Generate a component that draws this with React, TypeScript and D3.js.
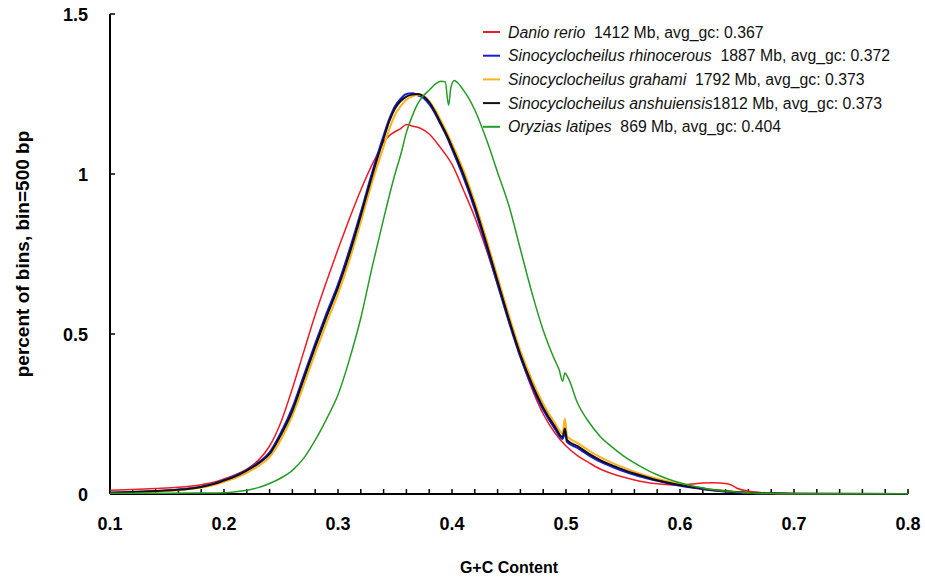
import React from 'react';
import * as d3 from 'd3';

// G+C content distribution, 500 bp bins: [gc, percent of bins]
const danioRerio: [number, number][] = [
    [0.10, 0.012], [0.12, 0.014], [0.14, 0.017], [0.16, 0.021], [0.18, 0.029], [0.19, 0.036], [0.20, 0.047],
    [0.21, 0.060], [0.22, 0.078], [0.23, 0.105], [0.24, 0.150], [0.25, 0.225], [0.26, 0.330], [0.27, 0.445],
    [0.28, 0.560], [0.29, 0.665], [0.30, 0.765], [0.31, 0.860], [0.32, 0.950], [0.33, 1.030], [0.335, 1.065],
    [0.34, 1.100], [0.345, 1.120], [0.35, 1.132], [0.355, 1.142], [0.36, 1.155], [0.365, 1.150], [0.37, 1.146],
    [0.375, 1.138], [0.38, 1.125], [0.385, 1.105], [0.39, 1.082], [0.395, 1.058], [0.40, 1.030], [0.41, 0.950],
    [0.42, 0.865], [0.43, 0.765], [0.44, 0.655], [0.45, 0.540], [0.46, 0.430], [0.47, 0.330], [0.48, 0.250],
    [0.49, 0.192], [0.50, 0.150], [0.51, 0.120], [0.52, 0.098], [0.53, 0.078], [0.54, 0.064], [0.55, 0.053],
    [0.56, 0.044], [0.57, 0.037], [0.58, 0.032], [0.59, 0.029], [0.60, 0.028], [0.61, 0.031], [0.62, 0.034],
    [0.63, 0.035], [0.64, 0.033], [0.645, 0.028], [0.65, 0.018], [0.66, 0.009], [0.67, 0.005], [0.68, 0.003],
    [0.70, 0.001], [0.75, 0.0005], [0.80, 0]
];

const sinoRhinocerous: [number, number][] = [
    [0.10, 0.004], [0.12, 0.006], [0.14, 0.009], [0.16, 0.014], [0.18, 0.023], [0.19, 0.031], [0.20, 0.043],
    [0.21, 0.057], [0.22, 0.075], [0.23, 0.098], [0.24, 0.130], [0.25, 0.192], [0.26, 0.270], [0.27, 0.370],
    [0.28, 0.470], [0.29, 0.565], [0.30, 0.655], [0.31, 0.762], [0.32, 0.880], [0.33, 1.005], [0.34, 1.120],
    [0.345, 1.172], [0.35, 1.212], [0.355, 1.235], [0.36, 1.250], [0.365, 1.252], [0.37, 1.246], [0.375, 1.238],
    [0.38, 1.218], [0.385, 1.190], [0.39, 1.155], [0.395, 1.120], [0.40, 1.078], [0.41, 0.990], [0.42, 0.890],
    [0.43, 0.775], [0.44, 0.655], [0.45, 0.537], [0.46, 0.428], [0.47, 0.338], [0.48, 0.263], [0.49, 0.205],
    [0.497, 0.172], [0.499, 0.190], [0.501, 0.162], [0.51, 0.144], [0.52, 0.121], [0.53, 0.101], [0.54, 0.086],
    [0.55, 0.072], [0.56, 0.060], [0.57, 0.050], [0.58, 0.041], [0.59, 0.033], [0.60, 0.026], [0.61, 0.020],
    [0.62, 0.015], [0.63, 0.011], [0.64, 0.008], [0.65, 0.005], [0.66, 0.003], [0.68, 0.002], [0.70, 0.001],
    [0.80, 0]
];

const sinoGrahami: [number, number][] = [
    [0.10, 0.003], [0.12, 0.005], [0.14, 0.008], [0.16, 0.012], [0.18, 0.020], [0.19, 0.027], [0.20, 0.038],
    [0.21, 0.050], [0.22, 0.066], [0.23, 0.087], [0.24, 0.115], [0.25, 0.170], [0.26, 0.245], [0.27, 0.340],
    [0.28, 0.440], [0.29, 0.535], [0.30, 0.625], [0.31, 0.730], [0.32, 0.850], [0.33, 0.975], [0.34, 1.085],
    [0.345, 1.140], [0.35, 1.185], [0.355, 1.212], [0.36, 1.232], [0.365, 1.243], [0.37, 1.248], [0.375, 1.244],
    [0.38, 1.228], [0.385, 1.202], [0.39, 1.168], [0.395, 1.133], [0.40, 1.095], [0.41, 1.012], [0.42, 0.912],
    [0.43, 0.798], [0.44, 0.678], [0.45, 0.558], [0.46, 0.448], [0.47, 0.357], [0.48, 0.282], [0.49, 0.223],
    [0.497, 0.190], [0.499, 0.235], [0.501, 0.180], [0.51, 0.160], [0.52, 0.136], [0.53, 0.115], [0.54, 0.098],
    [0.55, 0.083], [0.56, 0.070], [0.57, 0.058], [0.58, 0.048], [0.59, 0.039], [0.60, 0.031], [0.61, 0.024],
    [0.62, 0.018], [0.63, 0.013], [0.64, 0.010], [0.65, 0.007], [0.66, 0.004], [0.68, 0.002], [0.70, 0.001],
    [0.80, 0]
];

const sinoAnshuiensis: [number, number][] = [
    [0.10, 0.004], [0.12, 0.006], [0.14, 0.009], [0.16, 0.013], [0.18, 0.022], [0.19, 0.030], [0.20, 0.042],
    [0.21, 0.055], [0.22, 0.073], [0.23, 0.095], [0.24, 0.125], [0.25, 0.185], [0.26, 0.260], [0.27, 0.360],
    [0.28, 0.460], [0.29, 0.555], [0.30, 0.645], [0.31, 0.750], [0.32, 0.870], [0.33, 0.995], [0.34, 1.110],
    [0.345, 1.165], [0.35, 1.205], [0.355, 1.228], [0.36, 1.242], [0.365, 1.248], [0.37, 1.250], [0.375, 1.243],
    [0.38, 1.225], [0.385, 1.195], [0.39, 1.160], [0.395, 1.125], [0.40, 1.085], [0.41, 1.000], [0.42, 0.900],
    [0.43, 0.785], [0.44, 0.665], [0.45, 0.545], [0.46, 0.435], [0.47, 0.345], [0.48, 0.270], [0.49, 0.212],
    [0.497, 0.178], [0.499, 0.205], [0.501, 0.168], [0.51, 0.150], [0.52, 0.126], [0.53, 0.106], [0.54, 0.090],
    [0.55, 0.076], [0.56, 0.064], [0.57, 0.053], [0.58, 0.043], [0.59, 0.035], [0.60, 0.028], [0.61, 0.022],
    [0.62, 0.017], [0.63, 0.012], [0.64, 0.009], [0.65, 0.006], [0.66, 0.004], [0.68, 0.002], [0.70, 0.001],
    [0.80, 0]
];

const oryziasLatipes: [number, number][] = [
    [0.10, 0.002], [0.15, 0.002], [0.18, 0.003], [0.20, 0.004], [0.21, 0.007], [0.22, 0.012], [0.23, 0.020],
    [0.24, 0.033], [0.25, 0.050], [0.26, 0.074], [0.27, 0.112], [0.28, 0.168], [0.29, 0.235], [0.30, 0.310],
    [0.31, 0.420], [0.32, 0.550], [0.33, 0.710], [0.34, 0.860], [0.35, 1.000], [0.355, 1.060], [0.36, 1.130],
    [0.365, 1.180], [0.37, 1.220], [0.375, 1.245], [0.38, 1.262], [0.385, 1.280], [0.39, 1.290], [0.394, 1.288],
    [0.397, 1.215], [0.399, 1.270], [0.402, 1.292], [0.405, 1.285], [0.41, 1.262], [0.415, 1.235], [0.42, 1.200],
    [0.43, 1.110], [0.44, 1.005], [0.45, 0.900], [0.46, 0.765], [0.47, 0.630], [0.48, 0.512], [0.49, 0.420],
    [0.494, 0.388], [0.497, 0.352], [0.499, 0.378], [0.502, 0.362], [0.51, 0.285], [0.52, 0.225], [0.53, 0.180],
    [0.54, 0.148], [0.55, 0.120], [0.56, 0.097], [0.57, 0.077], [0.58, 0.060], [0.59, 0.046], [0.60, 0.035],
    [0.61, 0.026], [0.62, 0.019], [0.63, 0.013], [0.64, 0.009], [0.65, 0.006], [0.66, 0.004], [0.68, 0.002],
    [0.70, 0.001], [0.80, 0.001]
];

const speciesNames = ["Danio rerio", "Sinocyclocheilus rhinocerous", "Sinocyclocheilus grahami", "Sinocyclocheilus anshuiensis", "Oryzias latipes"];
const speciesInfo = ["  1412 Mb, avg_gc: 0.367", "  1887 Mb, avg_gc: 0.372", "  1792 Mb, avg_gc: 0.373", "1812 Mb, avg_gc: 0.373", "  869 Mb, avg_gc: 0.404"];
const seriesData = [danioRerio, sinoRhinocerous, sinoGrahami, sinoAnshuiensis, oryziasLatipes];

const xTickLabels = [0.1, 0.2, 0.3, 0.4, 0.5, 0.6, 0.7, 0.8];
const yTickLabels = [0, 0.5, 1, 1.5];

export default class App extends React.Component {
    svgRef: React.RefObject<SVGSVGElement | null>;
    palette: string[];
    strokeWidths: number[];

    constructor(props: any) {
        super(props);
        this.svgRef = React.createRef();
        this.palette = ["#ee1c25", "#1a1ae0", "#ffb21e", "#111111", "#259b25"];
        this.strokeWidths = [1.5, 2, 2, 2, 1.5];
        this.drawChart = this.drawChart.bind(this);
    }

    componentDidMount() {
        this.drawChart();
    }

    drawChart() {
        const svg = d3.select(this.svgRef.current);
        svg.selectAll("*").remove();
        const font = "'Liberation Sans', Arial, sans-serif";
        const margin = { top: 14, left: 110, bottom: 87, right: 17 };
        const width = 925, height = 581;

        const x = d3.scaleLinear().domain([0.1, 0.8]).range([margin.left, width - margin.right]);
        const y = d3.scaleLinear().domain([0, 1.5]).range([height - margin.bottom, margin.top]);

        // x axis: ticks point inward, minor every 0.02
        const minorTicks = d3.range(0, 36).map(i => 0.1 + i * 0.02);
        const xAxis = svg.append("g").attr("transform", `translate(0,${y(0)})`);
        xAxis.append("line")
            .attr("x1", x(0.1)).attr("x2", x(0.8))
            .attr("stroke", "#000").attr("stroke-width", 2);
        xAxis.selectAll("line.tick").data(minorTicks).enter().append("line")
            .attr("class", "tick")
            .attr("x1", d => x(d)).attr("x2", d => x(d))
            .attr("y1", 0).attr("y2", -5)
            .attr("stroke", "#000").attr("stroke-width", 1.5);
        xAxis.selectAll("text").data(xTickLabels).enter().append("text")
            .attr("x", d => x(d)).attr("y", 36)
            .attr("text-anchor", "middle")
            .attr("font-family", font).attr("font-weight", "bold").attr("font-size", 18)
            .text(d => d.toString());

        // y axis
        const yAxis = svg.append("g").attr("transform", `translate(${x(0.1)},0)`);
        yAxis.append("line")
            .attr("y1", y(0)).attr("y2", y(1.5))
            .attr("stroke", "#000").attr("stroke-width", 2);
        yAxis.selectAll("line.tick").data(yTickLabels).enter().append("line")
            .attr("class", "tick")
            .attr("y1", d => y(d)).attr("y2", d => y(d))
            .attr("x1", 0).attr("x2", 5)
            .attr("stroke", "#000").attr("stroke-width", 1.5);
        yAxis.selectAll("text").data(yTickLabels).enter().append("text")
            .attr("x", -22).attr("y", d => y(d) + 6.5)
            .attr("text-anchor", "end")
            .attr("font-family", font).attr("font-weight", "bold").attr("font-size", 18)
            .text(d => d.toString());

        svg.append("text")
            .attr("x", (x(0.1) + x(0.8)) / 2).attr("y", 573)
            .attr("text-anchor", "middle")
            .attr("font-family", font).attr("font-weight", "bold").attr("font-size", 16)
            .text("G+C Content");

        svg.append("text")
            .attr("transform", `translate(29,${(y(0) + y(1.5)) / 2}) rotate(-90)`)
            .attr("text-anchor", "middle")
            .attr("font-family", font).attr("font-weight", "bold").attr("font-size", 19)
            .text("percent of bins, bin=500 bp");

        const line = d3.line<[number, number]>()
            .x(d => x(d[0]))
            .y(d => y(d[1]))
            .curve(d3.curveMonotoneX);

        seriesData.forEach((series, i) => {
            svg.append("path")
                .datum(series)
                .attr("d", line)
                .attr("fill", "none")
                .attr("stroke", this.palette[i])
                .attr("stroke-width", this.strokeWidths[i])
                .attr("stroke-linejoin", "round");
        });

        // legend
        const legend = svg.append("g").attr("transform", "translate(483,32)");
        speciesNames.forEach((name, i) => {
            const row = legend.append("g").attr("transform", `translate(0,${i * 23.7})`);
            row.append("line")
                .attr("x1", 0).attr("x2", 17)
                .attr("stroke", this.palette[i]).attr("stroke-width", 2);
            const label = row.append("text")
                .attr("x", 25).attr("y", 5.5)
                .attr("font-family", font).attr("font-size", 15.8)
                .style("white-space", "pre")
                .attr("fill", "#111");
            label.append("tspan").attr("font-style", "italic").text(name);
            label.append("tspan").text(speciesInfo[i]);
        });
    }

    render() {
        return (
            <svg ref={this.svgRef} width={925} height={581}
                style={{ position: 'absolute', left: 0, top: 0, background: '#fff' }} />
        );
    }
}
